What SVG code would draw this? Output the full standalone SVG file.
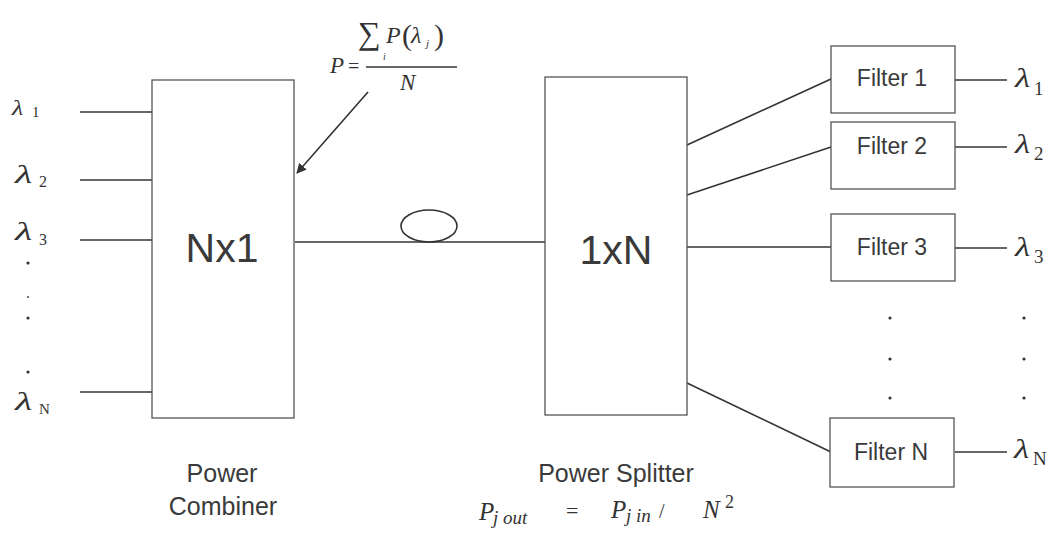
<svg xmlns="http://www.w3.org/2000/svg" width="1047" height="537" viewBox="0 0 1047 537">
<defs>
<style>
.box{fill:#fff;stroke:#555;stroke-width:1.3}
.ln{stroke:#333;stroke-width:1.6;fill:none}
.lbl{font-family:"Liberation Sans",Arial,sans-serif;fill:#3a3a3a}
.big{font-size:41px;text-anchor:middle}
.flt{font-size:23px;text-anchor:middle}
.cap{font-size:25px;text-anchor:middle}
.math{font-family:"Liberation Serif","Times New Roman",serif;font-style:italic;fill:#333}
.sub{font-family:"Liberation Serif","Times New Roman",serif;font-style:normal;fill:#333}
.dot{fill:#333}
</style>
<marker id="ah" viewBox="0 0 10 10" refX="9" refY="5" markerWidth="10" markerHeight="10" orient="auto" markerUnits="userSpaceOnUse">
<path d="M0,0 L10,5 L0,10 z" fill="#333"/>
</marker>
</defs>
<rect width="1047" height="537" fill="#fff"/>

<g id="connectors">
<line class="ln" x1="80" y1="112" x2="152" y2="112"/>
<line class="ln" x1="80" y1="180" x2="152" y2="180"/>
<line class="ln" x1="80" y1="240" x2="152" y2="240"/>
<line class="ln" x1="80" y1="392" x2="152" y2="392"/>
<line class="ln" x1="295" y1="242" x2="545" y2="242"/>
<ellipse class="ln" cx="429" cy="226" rx="28" ry="16"/>
<line class="ln" x1="687" y1="145" x2="831" y2="79"/>
<line class="ln" x1="687" y1="195" x2="831" y2="147"/>
<line class="ln" x1="687" y1="247" x2="831" y2="247"/>
<line class="ln" x1="687" y1="383" x2="831" y2="452"/>
<line class="ln" x1="955" y1="80" x2="1007" y2="80"/>
<line class="ln" x1="955" y1="147" x2="1007" y2="147"/>
<line class="ln" x1="955" y1="248" x2="1007" y2="248"/>
<line class="ln" x1="955" y1="452" x2="1007" y2="452"/>
<line class="ln" x1="368" y1="92" x2="297" y2="173" marker-end="url(#ah)"/>
</g>

<g id="combiner">
<rect class="box" x="152" y="80" width="142" height="338"/>
<text class="lbl big" x="222" y="262">Nx1</text>
<text class="lbl cap" x="222" y="482">Power</text>
<text class="lbl cap" x="223" y="515">Combiner</text>
</g>

<g id="splitter">
<rect class="box" x="545" y="77" width="142" height="338"/>
<text class="lbl big" x="616" y="264">1xN</text>
<text class="lbl cap" x="616" y="482">Power Splitter</text>
</g>

<g id="filter1">
<rect class="box" x="831" y="46" width="124" height="67"/>
<text class="lbl flt" x="892" y="86">Filter 1</text>
</g>
<g id="filter2">
<rect class="box" x="831" y="122" width="124" height="67"/>
<text class="lbl flt" x="892" y="154">Filter 2</text>
</g>
<g id="filter3">
<rect class="box" x="831" y="214" width="124" height="67"/>
<text class="lbl flt" x="892" y="255">Filter 3</text>
</g>
<g id="filterN">
<rect class="box" x="830" y="418" width="124" height="69"/>
<text class="lbl flt" x="891" y="460">Filter N</text>
</g>

<g id="inputs">
<text class="math" transform="translate(12,115) scale(1.3,1)" font-size="20">λ</text><text class="sub" x="32" y="117" font-size="15">1</text>
<text class="math" transform="translate(15,183) scale(1.6,1)" font-size="25">λ</text><text class="sub" x="39" y="187" font-size="16">2</text>
<text class="math" transform="translate(15,240) scale(1.6,1)" font-size="25">λ</text><text class="sub" x="39" y="245" font-size="16">3</text>
<circle class="dot" cx="28" cy="263" r="1.6"/>
<circle class="dot" cx="28" cy="297" r="0.9"/>
<circle class="dot" cx="28" cy="318" r="1.6"/>
<circle class="dot" cx="28" cy="372" r="1.6"/>
<text class="math" transform="translate(15,410) scale(1.6,1)" font-size="25">λ</text><text class="sub" x="39" y="414" font-size="15">N</text>
</g>

<g id="outputs">
<text class="math" transform="translate(1015,87) scale(1.3,1)" font-size="27">λ</text><text class="sub" x="1034" y="95" font-size="19">1</text>
<text class="math" transform="translate(1015,153) scale(1.3,1)" font-size="27">λ</text><text class="sub" x="1034" y="160" font-size="19">2</text>
<text class="math" transform="translate(1015,256) scale(1.3,1)" font-size="27">λ</text><text class="sub" x="1034" y="263" font-size="19">3</text>
<text class="math" transform="translate(1014,458) scale(1.3,1)" font-size="27">λ</text><text class="sub" x="1033" y="465" font-size="19">N</text>
<circle class="dot" cx="890" cy="318" r="1.6"/>
<circle class="dot" cx="890" cy="359" r="1.6"/>
<circle class="dot" cx="890" cy="398" r="1.6"/>
<circle class="dot" cx="1024" cy="318" r="1.6"/>
<circle class="dot" cx="1024" cy="359" r="1.6"/>
<circle class="dot" cx="1024" cy="398" r="1.6"/>
</g>

<g id="formula-top">
<text class="sub" x="358" y="44" font-size="32">∑</text>
<text class="math" x="386" y="43" font-size="24">P</text>
<text class="sub" x="402" y="45" font-size="30">(</text>
<text class="math" x="411" y="43" font-size="24">λ</text>
<text class="math" x="426" y="47" font-size="11">j</text>
<text class="sub" x="434" y="45" font-size="30">)</text>
<text class="math" x="383" y="60" font-size="10">i</text>
<text class="math" x="330" y="73" font-size="23">P</text>
<text class="sub" x="348" y="73" font-size="20">=</text>
<line class="ln" x1="366" y1="67" x2="457" y2="67" stroke-width="1.2"/>
<text class="math" x="400" y="90" font-size="23">N</text>
</g>

<g id="formula-bottom">
<text class="math" x="479" y="520" font-size="25">P</text>
<text class="math" x="493" y="524" font-size="19">j out</text>
<text class="sub" x="566" y="518" font-size="22">=</text>
<text class="math" x="611" y="518" font-size="25">P</text>
<text class="math" x="626" y="522" font-size="19">j in</text>
<text class="sub" x="659" y="518" font-size="20">/</text>
<text class="math" x="703" y="518" font-size="25">N</text>
<text class="sub" x="725" y="508" font-size="18">2</text>
</g>
</svg>
